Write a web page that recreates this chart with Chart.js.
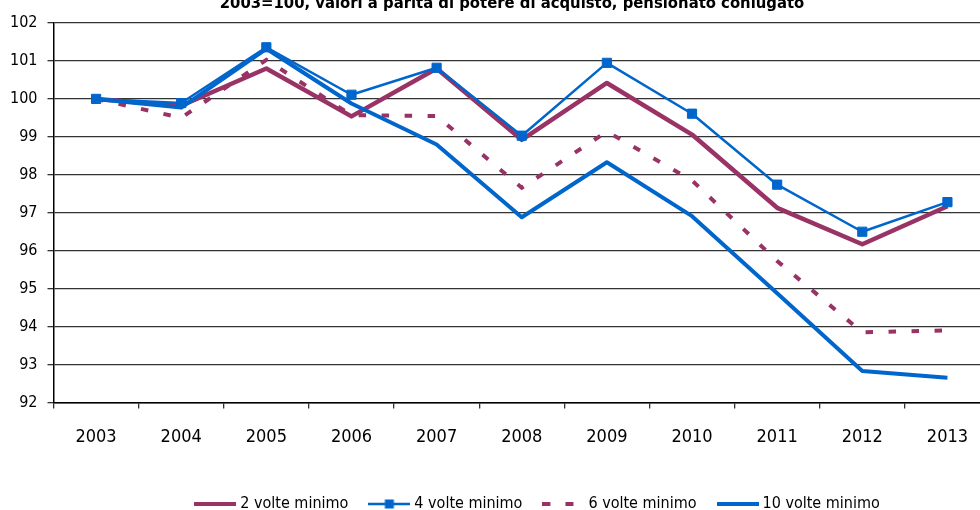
<!DOCTYPE html>
<html lang="it">
<head>
<meta charset="UTF-8" />
<title>Potere di acquisto pensioni</title>
<script src="https://cdn.jsdelivr.net/npm/chart.js"></script>
<style>
  html, body { margin: 0; padding: 0; overflow: hidden; background: #fff; }
  #wrap { width: 1000px; height: 522px; }
</style>
</head>
<body>
<div id="wrap"><canvas id="pensChart" width="1000" height="522"></canvas></div>
<script>
// 2003=100, valori a parità di potere di acquisto
const years = ["2003", "2004", "2005", "2006", "2007", "2008", "2009", "2010", "2011", "2012", "2013"];
const volte2 = [100, 99.82, 100.8, 99.54, 100.8, 98.92, 100.42, 99.06, 97.13, 96.17, 97.17];
const volte4 = [100, 99.89, 101.36, 100.11, 100.82, 99.03, 100.95, 99.61, 97.74, 96.5, 97.28];
const volte6 = [100, 99.5, 101.03, 99.57, 99.55, 97.66, 99.14, 97.85, 95.73, 93.85, 93.9];
const volte10 = [100, 99.77, 101.32, 99.88, 98.8, 96.88, 98.33, 96.91, 94.88, 92.83, 92.65];
const seriesNames = ["2 volte minimo", "4 volte minimo", "6 volte minimo", "10 volte minimo"];
const titleText = "2003=100, valori a parità di potere di acquisto, pensionato coniugato";

const FONT = "'Liberation Sans Narrow', 'Arial Narrow', 'DejaVu Sans Condensed', sans-serif";
const PURPLE = "#993366";
const BLUE = "#0066CC";

// little line samples for the legend
function makeSample(kind) {
  const c = document.createElement("canvas");
  c.width = 42;
  c.height = 12;
  const g = c.getContext("2d");
  g.lineCap = "butt";
  g.beginPath();
  g.moveTo(0, 6);
  g.lineTo(42, 6);
  if (kind === 0) { g.strokeStyle = PURPLE; g.lineWidth = 4; }
  if (kind === 1) { g.strokeStyle = BLUE; g.lineWidth = 2.5; }
  if (kind === 2) { g.strokeStyle = PURPLE; g.lineWidth = 4; g.setLineDash([8, 15]); }
  if (kind === 3) { g.strokeStyle = BLUE; g.lineWidth = 4; }
  g.stroke();
  if (kind === 1) {
    g.fillStyle = BLUE;
    g.fillRect(16.5, 1.5, 9, 9);
  }
  return c;
}
const samples = [0, 1, 2, 3].map(makeSample);

const titlePlugin = {
  id: "topTitle",
  afterDraw(chart) {
    const ctx = chart.ctx;
    ctx.save();
    ctx.font = "bold 16.5px " + FONT;
    ctx.fillStyle = "#000";
    ctx.textAlign = "center";
    ctx.textBaseline = "alphabetic";
    ctx.fillText(titleText, 512, 8);
    ctx.restore();
  }
};

// legend in the original sits a bit right of the centre
const legendShift = {
  id: "legendShift",
  afterLayout(chart) {
    chart.legend.left += 44;
    chart.legend.right += 44;
  }
};

const ctx = document.getElementById("pensChart").getContext("2d");
const pensChart = new Chart(ctx, {
  type: "line",
  data: {
    labels: years,
    datasets: [
      {
        label: seriesNames[0],
        data: volte2,
        borderColor: PURPLE,
        backgroundColor: PURPLE,
        borderWidth: 4.5,
        pointRadius: 0,
        borderJoinStyle: "round",
        order: 4
      },
      {
        label: seriesNames[1],
        data: volte4,
        borderColor: BLUE,
        backgroundColor: BLUE,
        borderWidth: 2.5,
        pointStyle: "rect",
        pointRadius: 6.5,
        pointBorderWidth: 1,
        borderJoinStyle: "round",
        order: 3
      },
      {
        label: seriesNames[2],
        data: volte6,
        borderColor: PURPLE,
        backgroundColor: PURPLE,
        borderWidth: 4,
        borderDash: [7.5, 15.5],
        borderCapStyle: "butt",
        pointRadius: 0,
        order: 2
      },
      {
        label: seriesNames[3],
        data: volte10,
        borderColor: BLUE,
        backgroundColor: BLUE,
        borderWidth: 4,
        pointRadius: 0,
        borderJoinStyle: "round",
        order: 1
      }
    ]
  },
  options: {
    responsive: false,
    animation: false,
    devicePixelRatio: 1,
    layout: { padding: { top: 23, right: 10, bottom: 0, left: 0 } },
    plugins: {
      title: { display: false },
      tooltip: { enabled: false },
      legend: {
        position: "bottom",
        labels: {
          usePointStyle: true,
          pointStyleWidth: 34,
          padding: 24,
          color: "#000",
          font: { family: FONT, size: 16 },
          generateLabels(chart) {
            return chart.data.datasets.map((ds, i) => ({
              text: ds.label,
              pointStyle: samples[i],
              datasetIndex: i,
              hidden: false,
              fontColor: "#000",
              lineWidth: 0,
              strokeStyle: "rgba(0,0,0,0)",
              fillStyle: "rgba(0,0,0,0)"
            }));
          }
        }
      }
    },
    scales: {
      x: {
        offset: true,
        grid: {
          display: true,
          drawOnChartArea: false,
          drawTicks: true,
          tickLength: 6,
          offset: true,
          color: "#333",
          lineWidth: 1.3
        },
        border: { display: true, color: "#000", width: 1.5 },
        ticks: {
          color: "#000",
          padding: 18,
          maxRotation: 0,
          font: { family: FONT, size: 18 }
        },
        afterFit(scale) { scale.height = 69.5; }
      },
      y: {
        min: 92,
        max: 102,
        grid: {
          color: "#333",
          lineWidth: 1.3,
          drawTicks: true,
          tickLength: 6
        },
        border: { display: true, color: "#000", width: 1.5 },
        ticks: {
          stepSize: 1,
          color: "#000",
          padding: 10,
          font: { family: FONT, size: 16 }
        },
        afterFit(scale) { scale.width = 53.5; }
      }
    }
  },
  plugins: [titlePlugin, legendShift]
});
</script>
</body>
</html>
